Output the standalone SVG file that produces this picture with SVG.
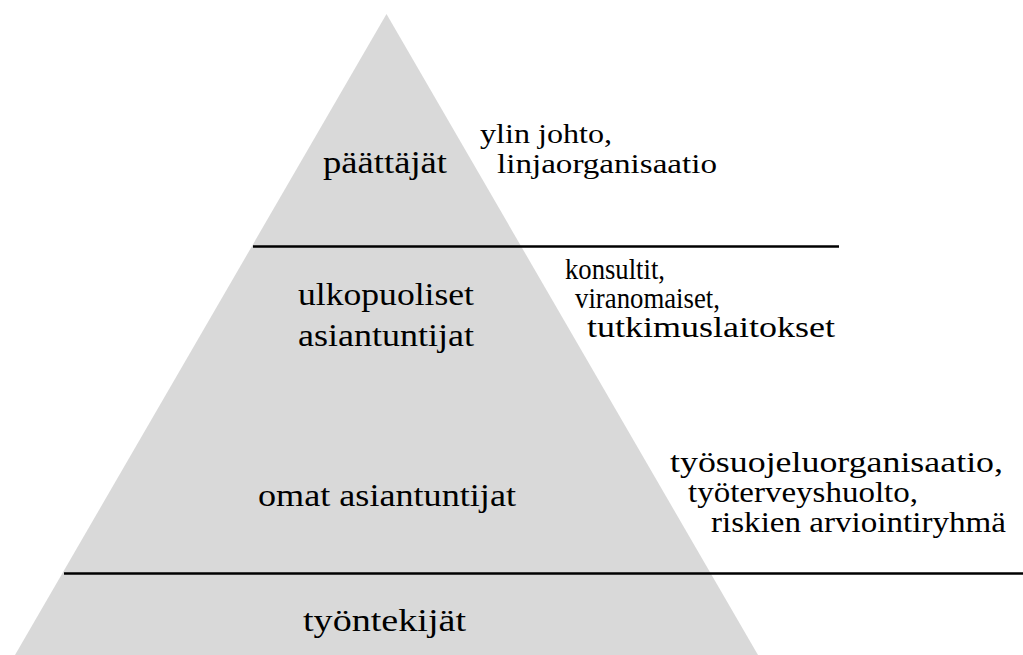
<svg xmlns="http://www.w3.org/2000/svg" width="1023" height="655" viewBox="0 0 1023 655">
<style>
.t{font-family:'Liberation Serif','Times New Roman',serif;font-size:31px;fill:#000}
.lbl{font-size:29px}
.sm{font-size:28px}
.sep{stroke:#000;stroke-width:2.5}
</style>
<rect width="1023" height="655" fill="#fff"/>
<g id="pyramid">
<polygon points="386.5,14 15,655 758,655" fill="#d9d9d9"/>
</g>
<g id="connectors">
<line class="sep" x1="253" y1="246.5" x2="839" y2="246.5"/>
<line class="sep" x1="64" y1="573.5" x2="1023" y2="573.5"/>
</g>
<g id="node-paattajat" class="t">
<text x="323" y="173" textLength="124" lengthAdjust="spacingAndGlyphs">päättäjät</text>
<text class="sm"><tspan x="480" y="143" textLength="132" lengthAdjust="spacingAndGlyphs">ylin johto,</tspan><tspan x="497" y="173" textLength="220" lengthAdjust="spacingAndGlyphs">linjaorganisaatio</tspan></text>
</g>
<g id="node-ulkopuoliset" class="t">
<text><tspan x="298" y="305" textLength="176" lengthAdjust="spacingAndGlyphs">ulkopuoliset</tspan><tspan x="298" y="346" textLength="176" lengthAdjust="spacingAndGlyphs">asiantuntijat</tspan></text>
<text class="lbl"><tspan x="565" y="279" textLength="100" lengthAdjust="spacingAndGlyphs">konsultit,</tspan><tspan x="575" y="308" textLength="145" lengthAdjust="spacingAndGlyphs">viranomaiset,</tspan><tspan x="587" y="337" textLength="248" lengthAdjust="spacingAndGlyphs">tutkimuslaitokset</tspan></text>
</g>
<g id="node-omat" class="t">
<text x="258" y="506" textLength="258" lengthAdjust="spacingAndGlyphs">omat asiantuntijat</text>
<text class="lbl"><tspan x="670" y="472" textLength="333" lengthAdjust="spacingAndGlyphs">työsuojeluorganisaatio,</tspan><tspan x="688" y="502" textLength="230" lengthAdjust="spacingAndGlyphs">työterveyshuolto,</tspan><tspan x="711" y="532" textLength="295" lengthAdjust="spacingAndGlyphs">riskien arviointiryhmä</tspan></text>
</g>
<g id="node-tyontekijat" class="t">
<text x="303" y="631" textLength="163" lengthAdjust="spacingAndGlyphs">työntekijät</text>
</g>
</svg>
